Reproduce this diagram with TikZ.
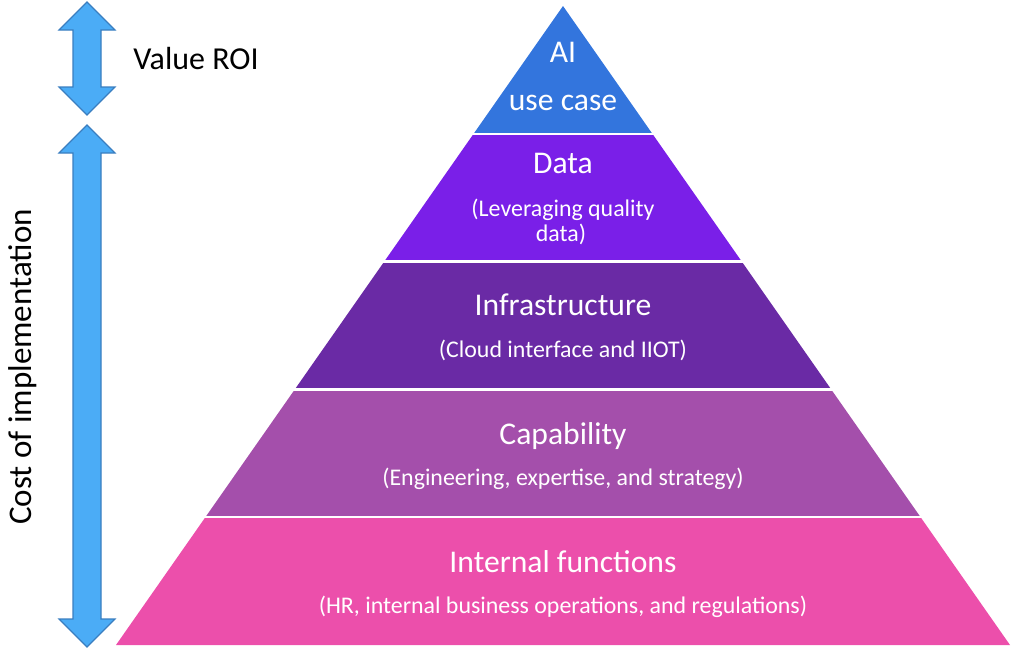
\documentclass[tikz,border=0pt]{standalone}
\usepackage{fontspec}
\setmainfont{Carlito}
\usepackage{color}
\definecolor{aiblue}{HTML}{3375DD}
\definecolor{datapurple}{HTML}{7A1FE8}
\definecolor{infrapurple}{HTML}{6A2AA5}
\definecolor{capviolet}{HTML}{A44FAB}
\definecolor{intpink}{HTML}{EC4FAB}
\definecolor{arrowfill}{HTML}{4BACF6}
\definecolor{arrowline}{HTML}{3A7EC0}

\tikzset{
 heading/.style={text=white, anchor=base, inner sep=0pt, font=\fontsize{18}{21}\selectfont},
 subline/.style={text=white, anchor=base, inner sep=0pt, font=\fontsize{13.6}{16}\selectfont},
 sidetext/.style={text=black, inner sep=0pt, font=\fontsize{18.2}{21}\selectfont},
 blockarrow/.style={fill=arrowfill, draw=arrowline, line width=0.7pt, line join=miter},
 layersep/.style={white, line width=0.05cm}
}

\begin{document}
\begin{tikzpicture}[x=0.02cm,y=-0.02cm]
 \useasboundingbox (0,0) rectangle (1015,649);

 % pyramid layers
 \fill[aiblue] (563,6) -- (652.4,133.8) -- (473.6,133.8) -- cycle;
 \fill[datapurple] (473.6,133.8) -- (652.4,133.8) -- (741.8,261.6) -- (384.2,261.6) -- cycle;
 \fill[infrapurple] (384.2,261.6) -- (741.8,261.6) -- (831.2,389.4) -- (294.8,389.4) -- cycle;
 \fill[capviolet] (294.8,389.4) -- (831.2,389.4) -- (920.6,517.2) -- (205.4,517.2) -- cycle;
 \fill[intpink] (205.4,517.2) -- (920.6,517.2) -- (1010,645) -- (116,645) -- cycle;

 \draw[layersep] (465,133.8) -- (661,133.8);
 \draw[layersep] (376,261.6) -- (750,261.6);
 \draw[layersep] (286,389.4) -- (840,389.4);
 \draw[layersep] (197,517.2) -- (929,517.2);

 \node[heading] (ai) at (563,62.7) {AI};
 \node[heading] (usecase) at (563,110.7) {use case};

 \node[heading] (data) at (563,173.3) {Data};
 \node[subline] (datasub) at (563,216.7) {(Leveraging quality};
 \node[subline] (datasubb) at (561,241) {data)};

 \node[heading] (infra) at (563,315) {Infrastructure};
 \node[subline] (infrasub) at (563,357) {(Cloud interface and IIOT)};

 \node[heading] (cap) at (563,444) {Capability};
 \node[subline] (capsub) at (563,485) {(Engineering, expertise, and strategy)};

 \node[heading] (intf) at (563,572) {Internal functions};
 \node[subline] (intfsub) at (563,613) {(HR, internal business operations, and regulations)};

 % side arrows
 \draw[blockarrow] (87,2) -- (115,30) -- (101,30) -- (101,87) -- (115,87) -- (87,115)
   -- (59,87) -- (73,87) -- (73,30) -- (59,30) -- cycle;
 \draw[blockarrow] (87,125) -- (115,153) -- (101,153) -- (101,619) -- (115,619) -- (87,647)
   -- (59,619) -- (73,619) -- (73,153) -- (59,153) -- cycle;

 \node[sidetext, anchor=base west] (roi) at (133,70) {Value ROI};
 \node[sidetext, rotate=90, font=\fontsize{18.8}{22}\selectfont] (cost) at (23,367) {Cost of implementation};

\end{tikzpicture}
\end{document}
